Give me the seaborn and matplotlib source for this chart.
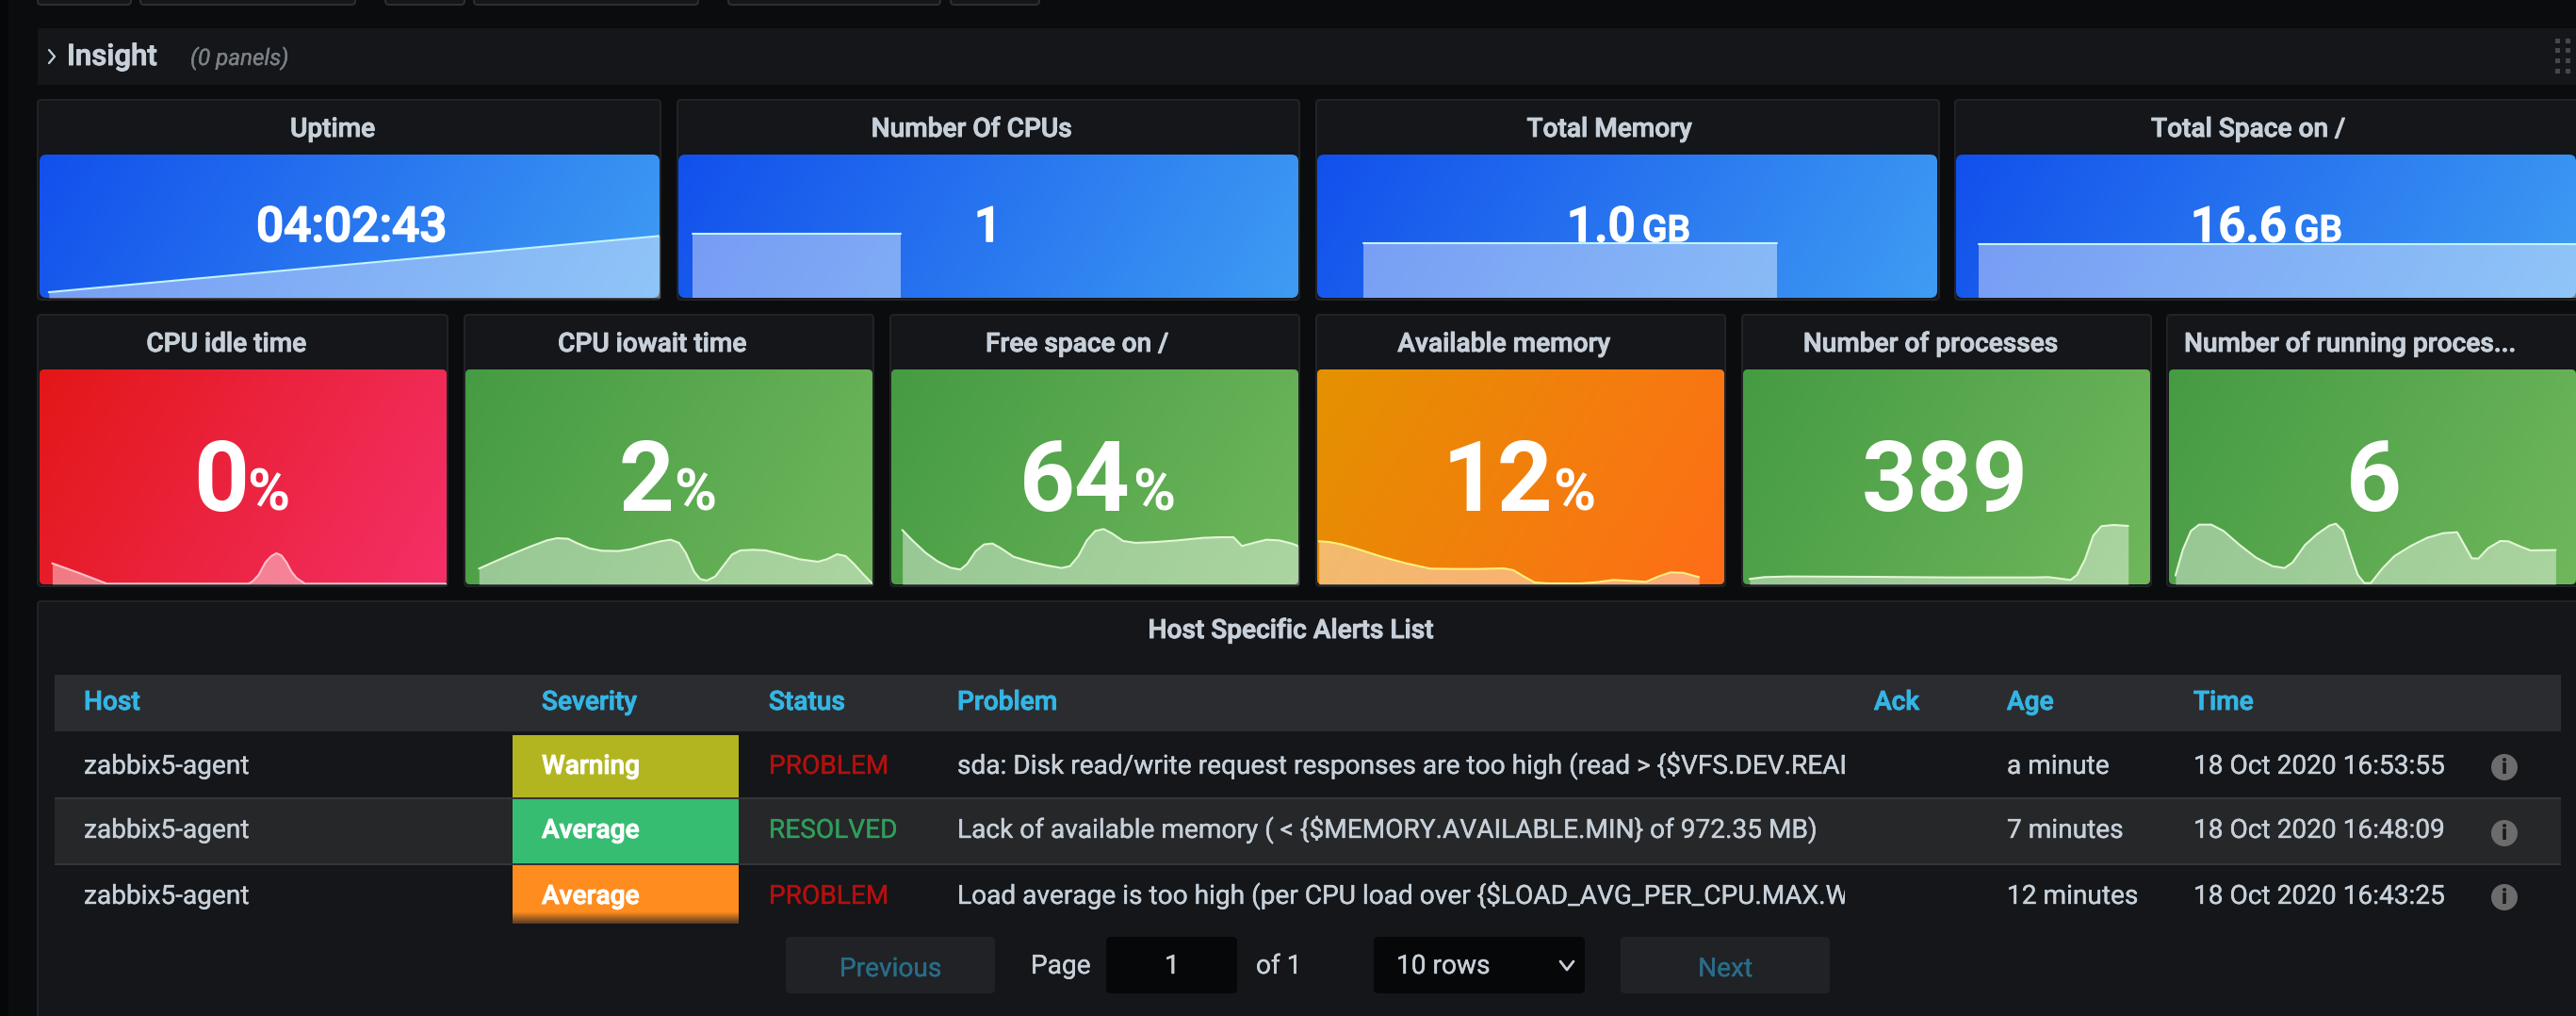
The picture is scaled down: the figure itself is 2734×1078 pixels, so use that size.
'''
Recreates a Grafana / Zabbix host dashboard screenshot with seaborn sparklines
'''

import numpy as np
import seaborn as sns
import matplotlib.pyplot as plt
import matplotlib.patheffects as pe
from matplotlib.colors import LinearSegmentedColormap
from matplotlib.patches import FancyBboxPatch, Rectangle, Circle

WIDTH, HEIGHT = 2734, 1078

# top row stats
top_titles = ['Uptime', 'Number Of CPUs', 'Total Memory', 'Total Space on /']
top_values = ['04:02:43', '1', '1.0', '16.6']
top_units = ['', '', 'GB', 'GB']

uptime_t = [11, 737]
uptime_v = [18, 197]
cpus_t = [17, 264]
cpus_v = [205, 205]
memory_t = [57, 565]
memory_v = [175, 175]
space_t = [28, 762]
space_v = [171, 171]

# second row stats
mid_titles = ['CPU idle time', 'CPU iowait time', 'Free space on /', 'Available memory',
              'Number of processes', 'Number of running proces...']
mid_values = ['0', '2', '64', '12', '389', '6']
mid_units = ['%', '%', '%', '%', '', '']

idle_t = [15, 48, 80, 248, 253, 260, 268, 275, 281, 287, 293, 299, 305, 315, 483]
idle_v = [67, 35, 2, 2, 10, 30, 70, 90, 99, 92, 70, 40, 20, 2, 2]

iowait_t = [16, 37, 57, 77, 97, 109, 122, 132, 147, 162, 182, 197, 217, 232, 244, 254, 262, 272,
            279, 287, 297, 307, 317, 327, 342, 357, 377, 397, 419, 430, 442, 452, 462, 472, 484]
iowait_v = [50, 75, 98, 120, 140, 147, 145, 132, 115, 107, 106, 112, 127, 137, 142, 132, 100, 40,
            17, 12, 25, 60, 95, 108, 110, 108, 95, 80, 72, 80, 96, 90, 65, 35, 2]

free_t = [13, 25, 40, 55, 70, 82, 90, 100, 110, 120, 130, 145, 165, 185, 202, 212, 222, 232, 242,
          252, 262, 275, 290, 315, 340, 370, 390, 406, 416, 430, 445, 460, 475, 483]
free_v = [173, 140, 102, 73, 53, 47, 65, 105, 127, 130, 115, 88, 72, 60, 52, 58, 90, 140, 170,
          176, 162, 138, 132, 135, 140, 148, 150, 150, 122, 132, 142, 140, 130, 122]

avail_t = [2, 14, 29, 49, 79, 109, 139, 169, 199, 229, 241, 254, 267, 284, 324, 344, 364, 379,
           404, 419, 434, 449, 469]
avail_v = [137, 135, 128, 113, 88, 67, 50, 49, 49, 51, 45, 25, 6, 3, 3, 7, 14, 12, 8, 25, 38, 37, 23]

procs_t = [8, 26, 56, 156, 256, 356, 376, 391, 403, 411, 421, 431, 441, 456, 474]
procs_v = [17, 23, 25, 24, 22, 22, 23, 18, 14, 30, 80, 155, 185, 189, 186]

running_t = [8, 17, 27, 37, 52, 67, 87, 107, 127, 142, 152, 167, 182, 197, 205, 214, 224, 232, 240,
             248, 262, 277, 297, 317, 337, 354, 364, 372, 380, 392, 407, 417, 432, 444, 475]
running_v = [28, 110, 170, 190, 190, 170, 125, 85, 58, 52, 70, 125, 160, 187, 193, 170, 90, 30, 4,
             4, 50, 90, 122, 148, 163, 166, 120, 83, 82, 115, 138, 137, 120, 108, 109]

# alerts table
table_columns = ['Host', 'Severity', 'Status', 'Problem', 'Ack', 'Age', 'Time']
hosts = ['zabbix5-agent', 'zabbix5-agent', 'zabbix5-agent']
severities = ['Warning', 'Average', 'Average']
statuses = ['PROBLEM', 'RESOLVED', 'PROBLEM']
problems = ['sda: Disk read/write request responses are too high (read > {$VFS.DEV.READ.AWAIT.WARN',
            'Lack of available memory ( < {$MEMORY.AVAILABLE.MIN} of 972.35 MB)',
            'Load average is too high (per CPU load over {$LOAD_AVG_PER_CPU.MAX.WARN}']
ages = ['a minute', '7 minutes', '12 minutes']
times = ['18 Oct 2020 16:53:55', '18 Oct 2020 16:48:09', '18 Oct 2020 16:43:25']

# colours
BG = '#0b0c0e'
PANEL = '#141619'
EDGE = '#212327'
TEXT = '#c7d0d9'
CYAN = '#33b5e5'
BLUE = ('#1250ec', '#3f9cf3', '#c4f3ff')
GREEN = ('#459b43', '#70b75c', '#e4f6d6')
RED = ('#e31717', '#f43068', '#ffc0c8')
ORANGE = ('#e49200', '#ff6d18', '#fff07c')

BODY_SIZE = 20.2


def px_axes(fig, x0, y0, x1, y1, zorder=1):
    '''
    Adds an axes covering a rectangle given in screenshot pixels (y pointing down)
    '''
    ax = fig.add_axes([x0 / WIDTH, 1 - y1 / HEIGHT, (x1 - x0) / WIDTH, (y1 - y0) / HEIGHT])
    ax.set_zorder(zorder)
    ax.set_axis_off()
    return ax


def box(ax, x0, y0, x1, y1, color, edge='none', radius=4, zorder=1):
    ax.add_patch(FancyBboxPatch((x0, y0), x1 - x0, y1 - y0, boxstyle=f'round,pad=0,rounding_size={radius}',
                                fc=color, ec=edge, lw=1.5, zorder=zorder))


def label(ax, x, y, text, size=BODY_SIZE, color=TEXT, weight=500, ha='left', stroke=None, **kwargs):
    '''
    Places a text on its baseline, thickened a little because the screenshot's rendering is heavier
    '''
    if stroke is None:
        stroke = 0.7 if weight == 500 else 0.25
    item = ax.text(x, y, text, fontsize=size, color=color, fontweight=weight, ha=ha, va='baseline',
                   parse_math=False, **kwargs)
    if stroke:
        item.set_path_effects([pe.withStroke(linewidth=stroke, foreground=color)])
    return item


def stat_panel(fig, rect, colors, t, v, span):
    '''
    Draws the gradient background of a stat panel and its sparkline

    Inputs:
        rect: (tuple) x0, y0, x1, y1 of the coloured area in pixels
        colors: (tuple) gradient start, gradient end, line colour
        t, v: (lists) the sparkline series
        span: (tuple) the range of t and v covered by the panel
    '''
    ax = px_axes(fig, *rect)
    cmap = LinearSegmentedColormap.from_list('panel', colors[:2])
    px_w, px_h = rect[2] - rect[0], rect[3] - rect[1]
    xx, yy = np.meshgrid(np.arange(px_w), np.arange(px_h))
    shade = xx * 0.866 + yy * 0.5
    image = ax.imshow(shade, cmap=cmap, extent=(0, span[0], 0, span[1]), aspect='auto', origin='upper')
    clip = FancyBboxPatch((0, 0), span[0], span[1],
                          boxstyle=f'round,pad=0,rounding_size={span[0] / 90}',
                          mutation_aspect=span[1] / px_h * px_w / span[0],
                          transform=ax.transData, fc='none', ec='none')
    ax.add_patch(clip)
    image.set_clip_path(clip)
    ax.fill_between(t, 0, v, color='white', alpha=0.42, lw=0, zorder=2)
    sns.lineplot(x=t, y=v, ax=ax, color=colors[2], lw=1.5, estimator=None, sort=False, legend=False, zorder=3)
    ax.set_xlim(0, span[0])
    ax.set_ylim(0, span[1])
    ax.set_axis_off()


def build_chart():
    '''
    Builds the whole dashboard and saves it to out.png
    '''
    sns.set_theme(style='dark')
    plt.rcParams['font.family'] = ['Roboto', 'DejaVu Sans']
    fig = plt.figure(figsize=(WIDTH / 100, HEIGHT / 100), dpi=100, facecolor=BG)

    back = px_axes(fig, 0, 0, WIDTH, HEIGHT, zorder=0)
    back.set_xlim(0, WIDTH)
    back.set_ylim(HEIGHT, 0)
    top = px_axes(fig, 0, 0, WIDTH, HEIGHT, zorder=5)
    top.set_xlim(0, WIDTH)
    top.set_ylim(HEIGHT, 0)

    # window edge, cut off toolbar and collapsed row
    back.add_patch(Rectangle((0, 0), 9, HEIGHT, fc='#060709', ec='none'))
    for x0, x1 in [(40, 139), (149, 377), (409, 493), (503, 741), (773, 998), (1009, 1103)]:
        box(back, x0, -12, x1, 5, PANEL, '#2c2e32')
    back.add_patch(Rectangle((40, 30), WIDTH - 40, 60, fc=PANEL, ec='none'))
    top.plot([52, 58, 52], [53, 60, 67], color=TEXT, lw=1.6)
    label(top, 71, 69, 'Insight', size=22.5)
    label(top, 202, 69, '(0 panels)', size=17.4, color='#7b8087', weight=400, style='italic')
    for x in (2714, 2725):
        for y in (43, 53, 64, 75):
            top.add_patch(Rectangle((x - 2.5, y - 2.5), 5, 5, fc='#46484c', ec='none'))

    # top row
    top_x = [(40, 701), (719, 1379), (1397, 2058), (2075, 2745)]
    top_color_x = [(42, 700), (720, 1378), (1398, 2056), (2076, 2734)]
    top_series = [(uptime_t, uptime_v), (cpus_t, cpus_v), (memory_t, memory_v), (space_t, space_v)]
    top_spans = [737, 737, 762, 762]
    top_title_x = [353, 1031, 1708, 2386]
    top_value_x = [272, 1034, 1663, 2325]
    top_unit_x = [0, 0, 1743, 2435]
    for i, title in enumerate(top_titles):
        box(back, top_x[i][0], 106, top_x[i][1], 318, PANEL, EDGE)
        stat_panel(fig, (top_color_x[i][0], 164, top_color_x[i][1], 316), BLUE, *top_series[i], (top_spans[i], 456))
        label(top, top_title_x[i], 145, title, ha='center')
        label(top, top_value_x[i], 256, top_values[i], size=37, color='white', stroke=1.2)
        if top_units[i]:
            label(top, top_unit_x[i], 256, top_units[i], size=28, color='white', stroke=1.0)

    # second row
    mid_x = [(40, 475), (493, 927), (945, 1379), (1397, 1831), (1849, 2283), (2300, 2745)]
    mid_color_x = [(42, 474), (494, 926), (946, 1378), (1398, 1830), (1850, 2282), (2302, 2734)]
    mid_series = [(idle_t, idle_v), (iowait_t, iowait_v), (free_t, free_v),
                  (avail_t, avail_v), (procs_t, procs_v), (running_t, running_v)]
    mid_colors = [RED, GREEN, GREEN, ORANGE, GREEN, GREEN]
    mid_spans = [483, 484, 483, 500, 501, 500]
    mid_title_x = [240, 692, 1143, 1596, 2049, 2494]
    mid_value_x = [205, 656, 1082, 1531, 1976, 2490]
    mid_unit_x = [262, 715, 1202, 1648, 0, 0]
    for i, title in enumerate(mid_titles):
        box(back, mid_x[i][0], 334, mid_x[i][1], 622, PANEL, EDGE)
        stat_panel(fig, (mid_color_x[i][0], 392, mid_color_x[i][1], 620), mid_colors[i], *mid_series[i],
                   (mid_spans[i], 684))
        label(top, mid_title_x[i], 373, title, ha='center')
        label(top, mid_value_x[i], 542, mid_values[i], size=74, color='white', weight=700, stroke=0)
        if mid_units[i]:
            label(top, mid_unit_x[i], 542, mid_units[i], size=44, color='white', weight=700, stroke=0)

    # alerts table
    box(back, 40, 638, 2745, 1095, PANEL, EDGE)
    label(top, 1370, 677, 'Host Specific Alerts List', ha='center')
    back.add_patch(Rectangle((58, 716), 2660, 60, fc='#2b2c2f', ec='none'))
    back.add_patch(Rectangle((58, 848), 2660, 68, fc='#262729', ec='none'))
    for y in (846, 916):
        back.add_patch(Rectangle((58, y), 2660, 2, fc='#343538', ec='none'))
    column_x = [89, 575, 816, 1016, 1989, 2130, 2328]
    for x, name in zip(column_x, table_columns):
        label(top, x, 753, name, color=CYAN)

    baselines = [821, 889, 959]
    icon_y = [814, 884, 952]
    cell_y = [(780, 846), (848, 916), (918, 967)]
    cell_colors = ['#b2b520', '#37bd72', '#ff8c1e']
    status_colors = {'PROBLEM': '#b2100e', 'RESOLVED': '#2f9e5b'}
    clip = Rectangle((1016, 776), 942, 210, transform=top.transData)
    for i in range(len(hosts)):
        base = baselines[i]
        back.add_patch(Rectangle((544, cell_y[i][0]), 240, cell_y[i][1] - cell_y[i][0], fc=cell_colors[i], ec='none'))
        label(top, column_x[0], base, hosts[i], weight=400)
        label(top, column_x[1], base, severities[i], color='white')
        label(top, column_x[2], base, statuses[i], color=status_colors[statuses[i]], weight=400)
        problem = label(top, column_x[3], base, problems[i], weight=400, clip_on=True)
        problem.set_clip_path(clip)
        label(top, column_x[5], base, ages[i], weight=400)
        label(top, column_x[6], base, times[i], weight=400)
        top.add_patch(Circle((2658, icon_y[i]), 14, fc='#6c6c6c', ec='none'))
        top.text(2658, icon_y[i] + 1, 'i', fontsize=16, fontweight=900, color='#1a1b1e', ha='center', va='center')

    # bottom of the orange cell fades into the panel
    fade = LinearSegmentedColormap.from_list('fade', ['#ff8c1e', '#5e3d22'])
    back.imshow(np.arange(13).reshape(-1, 1), cmap=fade, extent=(544, 784, 980, 967), aspect='auto',
                interpolation='nearest', origin='upper', zorder=3)
    back.set_xlim(0, WIDTH)
    back.set_ylim(HEIGHT, 0)

    # pagination
    box(back, 834, 994, 1056, 1054, '#202226', radius=5)
    box(back, 1720, 994, 1942, 1054, '#202226', radius=5)
    box(back, 1174, 994, 1313, 1054, '#060708', radius=5)
    box(back, 1458, 994, 1682, 1054, '#060708', radius=5)
    label(top, 945, 1036, 'Previous', color='#2a6c87', weight=400, ha='center')
    label(top, 1831, 1036, 'Next', color='#2a6c87', weight=400, ha='center')
    label(top, 1094, 1033, 'Page', weight=400)
    label(top, 1244, 1033, '1', weight=400, ha='center')
    label(top, 1333, 1033, 'of 1', weight=400)
    label(top, 1482, 1033, '10 rows', weight=400)
    top.plot([1656, 1663, 1670], [1020, 1029, 1020], color=TEXT, lw=2)

    fig.savefig('out.png', dpi=100, facecolor=BG)


build_chart()
